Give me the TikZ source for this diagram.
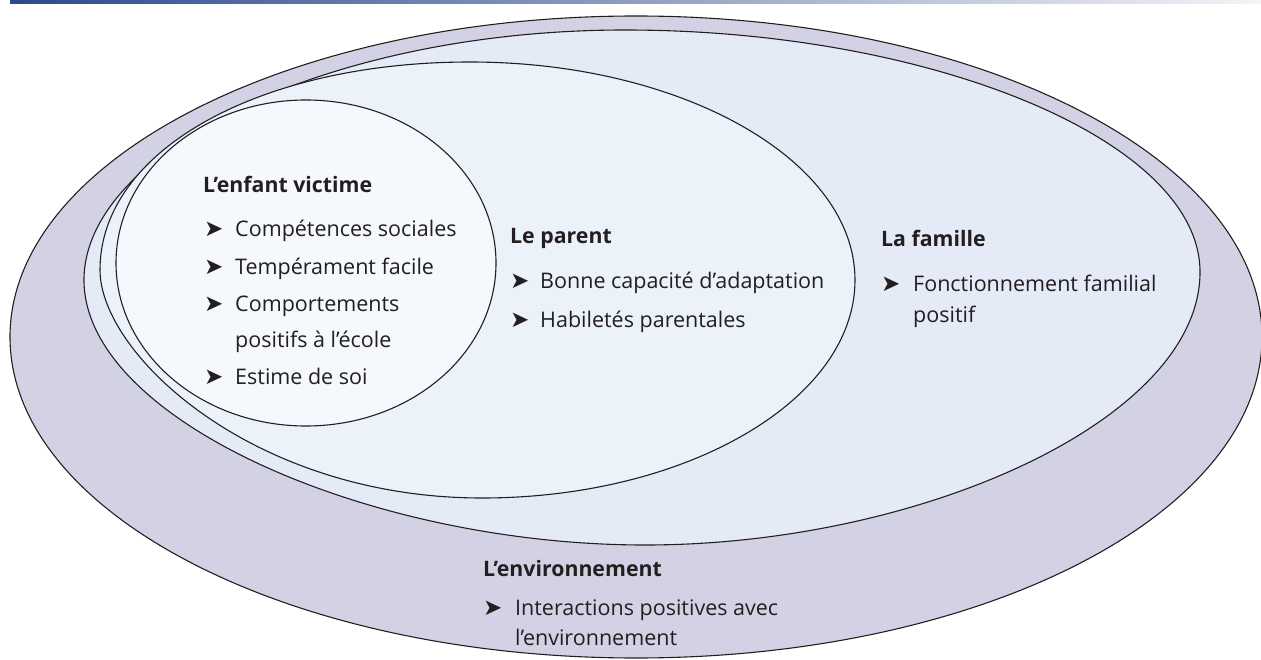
\documentclass[tikz,border=0pt]{standalone}
\usepackage{fontspec}
\setmainfont{Open Sans}
\newfontfamily\symfont{DejaVu Sans}
\definecolor{envfill}{HTML}{D3D2E5}
\definecolor{famfill}{HTML}{E4EAF6}
\definecolor{parfill}{HTML}{EBF2FA}
\definecolor{enffill}{HTML}{F5F8FC}
\definecolor{ink}{HTML}{231F20}
\definecolor{barL}{HTML}{2B4A8C}
\definecolor{barM}{HTML}{6A74A8}
\definecolor{barR}{HTML}{F4F4F8}
\begin{document}
\begin{tikzpicture}[x=1pt,y=-1pt,
  ring/.style={draw=ink, line width=1.1pt},
  ttl/.style={anchor=base west, inner sep=0pt, font=\bfseries\fontsize{21.3}{24}\selectfont, text=ink},
  itm/.style={anchor=base west, inner sep=0pt, font=\fontsize{21.5}{26}\selectfont, text=ink},
  bul/.style={anchor=base west, inner sep=0pt, font=\symfont\fontsize{23}{24}\selectfont, text=ink}]
\useasboundingbox (0,0) rectangle (1261,660);
\clip (0,0) rectangle (1261,660);
% top bar
\shade[left color=barL, middle color=barM, right color=barR] (10,0) rectangle (1261,3.5);
% environnement
\draw[ring, fill=envfill] (10,337)
  .. controls (10,160) and (290,16) .. (636,16)
  .. controls (982,16) and (1262,160) .. (1262,337)
  .. controls (1262,514) and (982,658) .. (636,658)
  .. controls (290,658) and (10,514) .. cycle;
% famille
\draw[ring, fill=famfill] (84,280)
  .. controls (84,150) and (330,30) .. (625,30)
  .. controls (930,30) and (1200,140) .. (1200,272)
  .. controls (1200,420) and (920,545) .. (645,545)
  .. controls (370,545) and (84,420) .. cycle;
% parent
\draw[ring, fill=parfill] (100,270)
  .. controls (100,150) and (260,62) .. (470,62)
  .. controls (682,62) and (855,160) .. (855,280)
  .. controls (855,400) and (687,498) .. (482,498)
  .. controls (253,498) and (100,354) .. cycle;
% enfant
\draw[ring, fill=enffill] (306,263) ellipse [x radius=190pt, y radius=163pt];
% enfant texts
\node[ttl] (t1) at (203,193) {L’enfant victime};
\node[bul] (b11) at (204,237) {➤};
\node[itm] (i11) at (235,237) {Compétences sociales};
\node[bul] (b12) at (204,275) {➤};
\node[itm] (i12) at (235,275) {Tempérament facile};
\node[bul] (b13) at (204,312) {➤};
\node[itm] (i13) at (235,312) {Comportements};
\node[itm] (i13b) at (235,347) {positifs à l’école};
\node[bul] (b14) at (204,384) {➤};
\node[itm] (i14) at (235,384) {Estime de soi};
% parent texts
\node[ttl] (t2) at (510,244) {Le parent};
\node[bul] (b21) at (510,289) {➤};
\node[itm] (i21) at (540,289) {Bonne capacité d’adaptation};
\node[bul] (b22) at (510,327) {➤};
\node[itm] (i22) at (540,327) {Habiletés parentales};
% famille texts
\node[ttl] (t3) at (881,247) {La famille};
\node[bul] (b31) at (881,292) {➤};
\node[itm] (i31) at (913,292) {Fonctionnement familial};
\node[itm] (i31b) at (913,323) {positif};
% environnement texts
\node[ttl] (t4) at (483,576) {L’environnement};
\node[bul] (b41) at (483,615) {➤};
\node[itm] (i41) at (515,615) {Interactions positives avec};
\node[itm] (i41b) at (515,645) {l’environnement};
\end{tikzpicture}
\end{document}
